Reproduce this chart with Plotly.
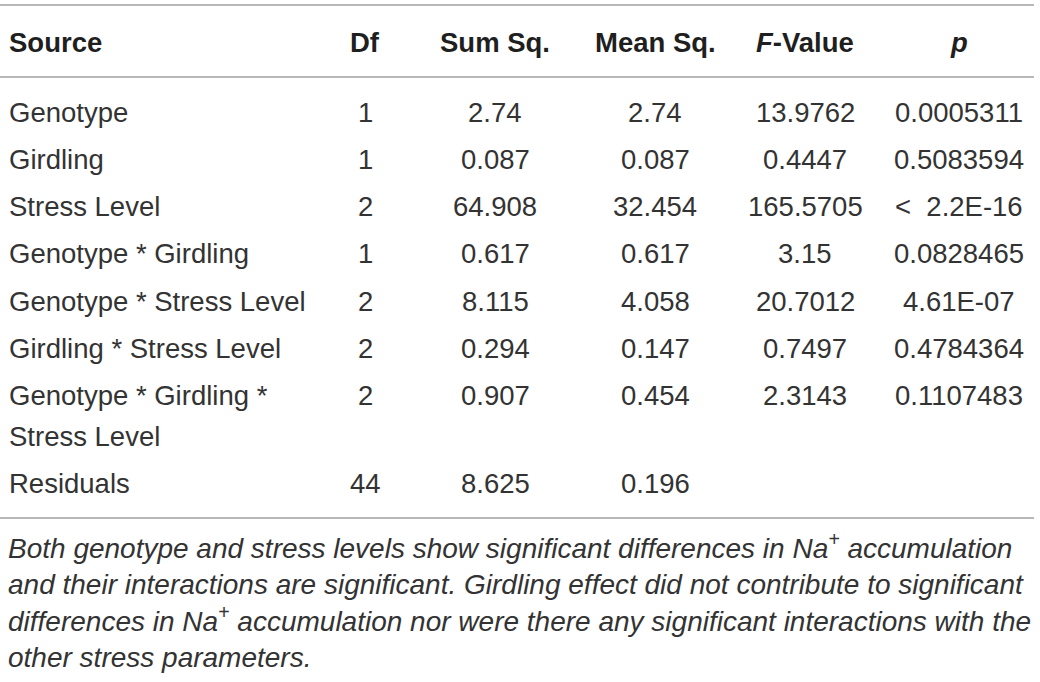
import plotly.graph_objects as go

# ---- data ----
headers = ["<b>Source</b>", "<b>Df</b>", "<b>Sum Sq.</b>", "<b>Mean Sq.</b>", "<b><i>F</i>-Value</b>", "<b><i>p</i></b>"]
sources = ["Genotype", "Girdling", "Stress Level", "Genotype * Girdling",
           "Genotype * Stress Level", "Girdling * Stress Level",
           "Genotype * Girdling *<br>Stress Level", "Residuals"]
df_vals = ["1", "1", "2", "1", "2", "2", "2", "44"]
sum_sq = ["2.74", "0.087", "64.908", "0.617", "8.115", "0.294", "0.907", "8.625"]
mean_sq = ["2.74", "0.087", "32.454", "0.617", "4.058", "0.147", "0.454", "0.196"]
f_vals = ["13.9762", "0.4447", "165.5705", "3.15", "20.7012", "0.7497", "2.3143", ""]
p_vals = ["0.0005311", "0.5083594", "<  2.2E-16", "0.0828465", "4.61E-07", "0.4784364", "0.1107483", ""]
footnote_lines = [
    "Both genotype and stress levels show significant differences in Na<sup>+</sup> accumulation",
    "and their interactions are significant. Girdling effect did not contribute to significant",
    "differences in Na<sup>+</sup> accumulation nor were there any significant interactions with the",
    "other stress parameters.",
]

# ---- layout constants ----
W, H = 1040, 682
FONT = "Liberation Sans"
FS = 27.5
col_x = [7, 365, 495, 655, 805, 959]
header_y = 42
row_y0, row_dy = 112, 47.3
wrap_dy = 41          # second line of a wrapped cell
wrap_extra = 40       # extra height taken by a wrapped row
foot_center = 600
text_col = "#333333"
head_col = "#1f1f1f"
line_col = "#a0a0a0"

fig = go.Figure()
fig.add_trace(go.Scatter(x=[0, W], y=[0, H], mode="markers", marker=dict(opacity=0),
                         hoverinfo="skip", showlegend=False))

ann = []
for i, h in enumerate(headers):
    ann.append(dict(x=col_x[i], y=header_y, text=h, xanchor="left" if i == 0 else "center",
                    font=dict(size=FS, color=head_col, family=FONT)))

columns = [sources, df_vals, sum_sq, mean_sq, f_vals, p_vals]
n_wrapped_before = [sum("<br>" in s for s in sources[:r]) for r in range(len(sources))]
for c, col in enumerate(columns):
    for r, v in enumerate(col):
        if not v:
            continue
        y = row_y0 + r * row_dy + n_wrapped_before[r] * wrap_extra
        for k, part in enumerate(v.split("<br>")):
            ann.append(dict(x=col_x[c], y=y + k * wrap_dy, text=part,
                            xanchor="left" if c == 0 else "center",
                            font=dict(size=FS, color=text_col, family=FONT)))

ann.append(dict(x=6, y=foot_center, text="<i>" + "<br>".join(footnote_lines) + "</i>",
                xanchor="left", font=dict(size=28, color=text_col, family=FONT)))

for a in ann:
    a.update(xref="x", yref="y", showarrow=False, yanchor="middle", align="left")

shapes = [dict(type="line", xref="x", yref="y", x0=0, x1=1034, y0=yy, y1=yy,
               line=dict(color=line_col, width=1.5)) for yy in (5, 77, 518)]

fig.update_layout(width=W, height=H, margin=dict(l=0, r=0, t=0, b=0),
                  paper_bgcolor="white", plot_bgcolor="white",
                  xaxis=dict(range=[0, W], visible=False, fixedrange=True),
                  yaxis=dict(range=[H, 0], visible=False, fixedrange=True),
                  annotations=ann, shapes=shapes)
fig.write_html("out.html", config={"displayModeBar": False},
               post_script="document.body.style.margin='0';document.body.style.overflow='hidden';")
